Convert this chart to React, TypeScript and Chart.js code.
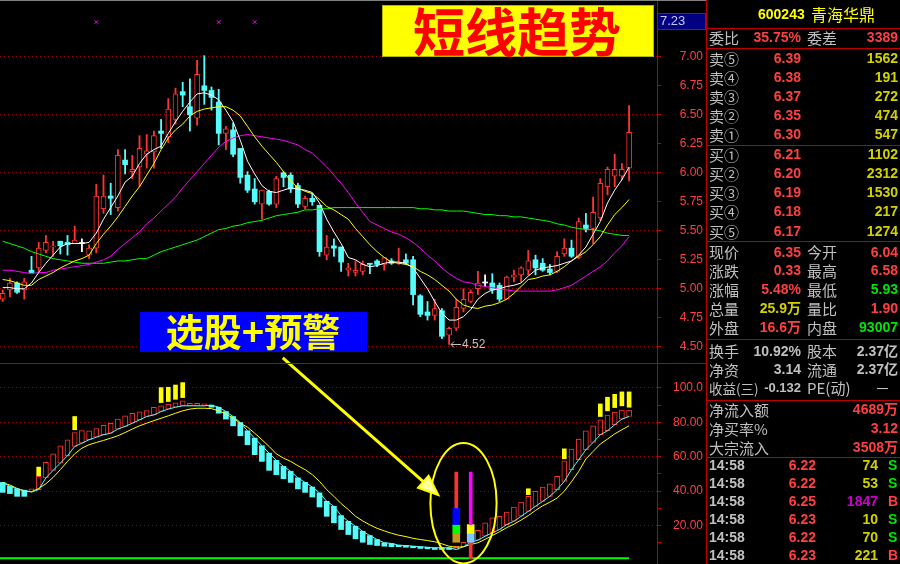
import { useEffect, useRef } from 'react';
import { Chart, registerables } from 'chart.js';

Chart.register(...registerables);

// ---------- daily candles ----------
const opens = [
  4.91, 4.99, 5.05, 4.99, 5.16, 5.18, 5.33, 5.36, 5.41, 5.40,
  5.39, 5.39, 5.29, 5.35, 5.69, 5.80, 5.70, 6.11, 6.01, 6.05,
  6.16, 6.18, 6.36, 6.31, 6.46, 6.70, 6.57, 6.47, 6.75, 6.71,
  6.61, 6.34, 6.37, 6.21, 5.98, 5.86, 5.73, 5.84, 5.73, 6.00,
  5.98, 5.89, 5.71, 5.78, 5.72, 5.29, 5.37, 5.36, 5.16, 5.14,
  5.15, 5.22, 5.24, 5.21, 5.24, 5.22, 5.25, 5.25, 4.94, 4.80,
  4.77, 4.81, 4.60, 4.66, 4.83, 4.89, 5.00, 5.05, 5.05, 5.03,
  4.91, 5.10, 5.12, 5.16, 5.25, 5.22, 5.17, 5.15, 5.30, 5.35,
  5.27, 5.55, 5.52, 5.61, 5.88, 5.97, 5.97, 6.04,
];
const highs = [
  4.99, 5.09, 5.06, 5.09, 5.28, 5.40, 5.46, 5.41, 5.41, 5.46,
  5.54, 5.43, 5.38, 5.90, 5.98, 5.91, 6.20, 6.20, 6.15, 6.32,
  6.33, 6.36, 6.46, 6.64, 6.73, 6.78, 6.81, 6.97, 7.01, 6.74,
  6.72, 6.40, 6.43, 6.21, 6.01, 5.95, 5.85, 5.85, 5.97, 6.01,
  6.00, 5.91, 5.80, 5.82, 5.72, 5.46, 5.43, 5.36, 5.22, 5.24,
  5.24, 5.22, 5.25, 5.27, 5.26, 5.35, 5.30, 5.28, 4.95, 4.89,
  4.91, 4.83, 4.67, 4.91, 5.00, 4.99, 5.15, 5.12, 5.13, 5.05,
  5.11, 5.16, 5.19, 5.33, 5.29, 5.26, 5.21, 5.32, 5.43, 5.42,
  5.61, 5.65, 5.79, 5.95, 6.05, 6.16, 6.08, 6.58,
];
const lows = [
  4.89, 4.93, 4.96, 4.91, 5.14, 5.14, 5.31, 5.28, 5.30, 5.29,
  5.39, 5.32, 5.26, 5.31, 5.65, 5.64, 5.67, 5.99, 5.95, 5.88,
  6.04, 6.04, 6.21, 6.26, 6.42, 6.57, 6.36, 6.41, 6.59, 6.54,
  6.24, 6.20, 6.14, 5.91, 5.83, 5.73, 5.60, 5.72, 5.70, 5.88,
  5.83, 5.70, 5.69, 5.72, 5.28, 5.25, 5.28, 5.15, 5.11, 5.11,
  5.12, 5.13, 5.19, 5.16, 5.21, 5.21, 5.21, 4.86, 4.76, 4.73,
  4.73, 4.57, 4.52, 4.64, 4.80, 4.88, 4.95, 5.02, 4.96, 4.89,
  4.91, 5.06, 5.06, 5.12, 5.12, 5.15, 5.12, 5.14, 5.28, 5.27,
  5.26, 5.49, 5.39, 5.59, 5.81, 5.88, 5.94, 5.93,
];
const closes = [
  4.96, 5.05, 4.97, 5.06, 5.14, 5.35, 5.40, 5.37, 5.37, 5.38,
  5.42, 5.39, 5.35, 5.80, 5.80, 5.78, 6.15, 6.07, 6.03, 6.21,
  6.19, 6.32, 6.34, 6.55, 6.68, 6.67, 6.50, 6.85, 6.71, 6.65,
  6.34, 6.38, 6.16, 5.96, 5.85, 5.75, 5.85, 5.73, 5.95, 5.96,
  5.86, 5.73, 5.78, 5.75, 5.32, 5.36, 5.35, 5.23, 5.18, 5.16,
  5.21, 5.21, 5.21, 5.27, 5.22, 5.23, 5.22, 4.95, 4.78, 4.77,
  4.83, 4.59, 4.66, 4.84, 4.91, 4.97, 5.05, 5.05, 4.99, 4.91,
  5.10, 5.12, 5.18, 5.24, 5.18, 5.16, 5.14, 5.28, 5.35, 5.28,
  5.58, 5.52, 5.66, 5.91, 6.03, 6.03, 6.03, 6.35,
];

// ---------- moving averages ----------
const ma5 = [
  5.01, 5.01, 5.00, 5.00, 5.05, 5.14, 5.22, 5.29, 5.36, 5.39,
  5.39, 5.39, 5.40, 5.48, 5.60, 5.70, 5.80, 5.92, 5.97, 6.08,
  6.16, 6.20, 6.23, 6.34, 6.44, 6.53, 6.61, 6.68, 6.69, 6.67,
  6.63, 6.54, 6.44, 6.28, 6.10, 5.99, 5.89, 5.84, 5.83, 5.85,
  5.87, 5.86, 5.85, 5.83, 5.74, 5.60, 5.49, 5.39, 5.27, 5.25,
  5.21, 5.19, 5.20, 5.22, 5.23, 5.23, 5.22, 5.18, 5.09, 5.00,
  4.89, 4.79, 4.73, 4.73, 4.76, 4.82, 4.91, 4.96, 4.99, 5.00,
  5.02, 5.03, 5.05, 5.11, 5.16, 5.18, 5.19, 5.20, 5.22, 5.24,
  5.29, 5.36, 5.47, 5.58, 5.74, 5.85, 5.94, 6.05,
];
const ma10 = [
  5.08, 5.07, 5.05, 5.03, 5.03, 5.08, 5.11, 5.14, 5.18, 5.21,
  5.24, 5.26, 5.29, 5.39, 5.47, 5.54, 5.62, 5.71, 5.80, 5.88,
  5.98, 6.08, 6.20, 6.30, 6.37, 6.42, 6.49, 6.53, 6.55, 6.56,
  6.57, 6.57, 6.54, 6.49, 6.40, 6.31, 6.23, 6.16, 6.09, 6.01,
  5.93, 5.87, 5.84, 5.82, 5.77, 5.71, 5.68, 5.64, 5.60, 5.52,
  5.45, 5.38, 5.32, 5.27, 5.23, 5.22, 5.21, 5.19, 5.15, 5.12,
  5.08, 5.03, 4.98, 4.91, 4.86, 4.84, 4.83, 4.85, 4.86, 4.88,
  4.91, 4.96, 5.02, 5.08, 5.09, 5.11, 5.12, 5.15, 5.19, 5.24,
  5.28, 5.32, 5.38, 5.45, 5.55, 5.64, 5.70, 5.77,
];
const ma30 = [
  5.16, 5.16, 5.15, 5.14, 5.13, 5.14, 5.14, 5.16, 5.17, 5.18,
  5.19, 5.20, 5.21, 5.23, 5.25, 5.28, 5.34, 5.39, 5.44, 5.49,
  5.56, 5.61, 5.67, 5.73, 5.79, 5.87, 5.94, 6.01, 6.08, 6.15,
  6.22, 6.27, 6.30, 6.32, 6.33, 6.32, 6.31, 6.30, 6.29, 6.28,
  6.26, 6.24, 6.20, 6.17, 6.11, 6.05, 5.98, 5.91, 5.83, 5.74,
  5.66, 5.58, 5.55, 5.52, 5.49, 5.47, 5.44, 5.40, 5.35, 5.29,
  5.24, 5.18, 5.13, 5.09, 5.06, 5.05, 5.03, 5.02, 5.01, 5.00,
  4.99, 4.98, 4.98, 4.98, 4.98, 4.98, 4.98, 4.99, 5.01, 5.03,
  5.07, 5.11, 5.15, 5.19, 5.24, 5.31, 5.37, 5.45,
];
const ma120 = [
  5.41, 5.39, 5.37, 5.35, 5.32, 5.30, 5.28, 5.26, 5.25, 5.24,
  5.23, 5.22, 5.22, 5.22, 5.22, 5.23, 5.24, 5.24, 5.25, 5.26,
  5.26, 5.29, 5.32, 5.34, 5.36, 5.38, 5.40, 5.42, 5.45, 5.48,
  5.51, 5.52, 5.54, 5.55, 5.57, 5.58, 5.59, 5.61, 5.63, 5.64,
  5.65, 5.66, 5.68, 5.68, 5.69, 5.69, 5.70, 5.70, 5.70, 5.70,
  5.70, 5.70, 5.70, 5.70, 5.70, 5.70, 5.70, 5.70, 5.69, 5.69,
  5.68, 5.68, 5.67, 5.67, 5.67, 5.66, 5.65, 5.64, 5.64, 5.63,
  5.63, 5.62, 5.62, 5.61, 5.60, 5.59, 5.58, 5.56, 5.55, 5.53,
  5.52, 5.51, 5.51, 5.50, 5.48, 5.47, 5.46, 5.46,
];

// small markers along the top of the price panel
const markDays = [13, 30, 35];
const markLevels = [7.3, 7.3, 7.3];

const priceTicks = [4.5, 4.75, 5, 5.25, 5.5, 5.75, 6, 6.25, 6.5, 6.75, 7];
const priceTag = 7.23;
const lowestDay = 62;

// ---------- short-term trend indicator ----------
const trendFast = [
  45.1, 42.8, 41.3, 40.5, 39.5, 40.9, 47.7, 52.1, 56.3, 60.6,
  66.0, 67.9, 69.9, 71.4, 72.8, 73.7, 76.1, 77.6, 79.5, 81.4,
  83.4, 84.3, 86.3, 87.7, 88.8, 89.6, 89.6, 89.6, 89.6, 90.0,
  88.8, 86.3, 83.4, 79.9, 75.1, 70.8, 66.4, 62.1, 57.9, 54.4,
  51.5, 47.7, 45.1, 42.4, 39.0, 34.1, 31.2, 25.8, 22.5, 19.6,
  16.7, 14.2, 11.9, 10.0, 9.6, 8.6, 8.4, 8.0, 7.7, 7.4,
  7.1, 7.1, 7.1, 6.1, 7.7, 10.3, 11.5, 13.8, 15.8, 17.7,
  20.6, 22.5, 25.4, 28.3, 31.2, 34.1, 37.0, 40.9, 45.7, 52.5,
  58.3, 64.1, 68.3, 72.8, 75.1, 78.6, 81.9, 83.4,
];
const trendBarEnd = [
  39.3, 38.6, 37.0, 37.0, 41.3, 48.6, 56.7, 61.7, 66.4, 69.9,
  74.1, 75.2, 75.1, 76.4, 78.2, 79.5, 81.9, 83.8, 85.3, 86.1,
  86.8, 88.8, 89.6, 90.6, 91.3, 92.5, 91.1, 91.1, 90.7, 88.8,
  85.3, 81.9, 78.0, 72.2, 67.0, 61.2, 57.3, 52.1, 49.6, 47.2,
  45.1, 41.3, 39.3, 36.6, 30.8, 25.4, 21.6, 17.7, 14.8, 12.3,
  10.3, 9.0, 8.4, 8.0, 7.7, 7.7, 7.4, 7.1, 6.7, 6.5,
  6.1, 6.1, 6.1, 8.0, 10.3, 14.0, 17.3, 21.6, 24.5, 25.4,
  27.9, 30.8, 33.7, 37.0, 39.9, 42.4, 44.3, 48.6, 57.7, 64.5,
  70.3, 75.1, 78.0, 81.4, 84.3, 85.9, 87.2, 87.2,
];
const trendSlow = [
  44.9, 43.6, 41.6, 39.9, 39.7, 41.6, 44.3, 48.0, 52.5, 57.3,
  61.7, 65.0, 67.0, 68.3, 69.5, 70.8, 72.2, 74.1, 76.1, 78.0,
  79.5, 81.0, 82.4, 83.8, 85.3, 86.7, 87.7, 88.2, 88.2, 88.0,
  86.7, 84.9, 82.4, 79.5, 77.2, 73.7, 69.9, 66.0, 61.7, 59.2,
  57.3, 54.8, 52.5, 49.6, 45.7, 40.9, 37.0, 32.8, 29.3, 25.4,
  22.7, 20.4, 18.4, 16.9, 15.5, 14.4, 13.6, 12.6, 11.9, 11.3,
  10.6, 9.4, 8.0, 7.4, 7.7, 9.0, 10.0, 12.0, 14.2, 16.4,
  18.8, 20.8, 23.2, 25.8, 28.8, 31.5, 33.6, 36.0, 40.0, 45.5,
  51.5, 58.7, 63.1, 67.4, 70.3, 73.3, 75.7, 78.0,
];
const trendFloor = 1;

// alert ticks above the bars
const alertDays = [5, 10, 22, 23, 24, 25, 73, 78, 83, 84, 85, 86, 87];
const alertLow = [49.0, 75.7, 91.5, 92.1, 93.4, 94.4, 38.0, 58.8, 83.4, 86.7, 88.6, 89.6, 88.8];
const alertHigh = [54.0, 83.4, 100.2, 100.4, 101.7, 103.1, 41.4, 64.6, 90.7, 94.6, 96.3, 97.7, 97.7];

// bottom-signal columns
const signalDayA = 63;
const signalStemA = [30.3, 51.1];
const signalBlocksA = [[20.6, 30.3], [15.8, 20.6], [10.3, 15.8]];
const signalDayB = 65;
const signalStemB = [20.6, 51.1];
const signalBlocksB = [[15.4, 20.6], [10.3, 15.4]];
const signalTailB = [0.7, 10.3];

const trendTicks = [10, 20, 30, 40, 50, 60, 70, 80, 90, 100];
const trendLabelTicks = [20, 40, 60, 80, 100];

// ---------- quote panel ----------
const stockCode = '600243';
const stockName = '青海华鼎';
const bidAskRatio = '35.75%';
const bidAskDiff = '3389';
const bookLabels = ['卖⑤', '卖④', '卖③', '卖②', '卖①', '买①', '买②', '买③', '买④', '买⑤'];
const bookPrices = [6.39, 6.38, 6.37, 6.35, 6.30, 6.21, 6.20, 6.19, 6.18, 6.17];
const bookVolumes = [1562, 191, 272, 474, 547, 1102, 2312, 1530, 217, 1274];
const quoteNames = ['现价', '涨跌', '涨幅', '总量', '外盘'];
const quoteValues = ['6.35', '0.33', '5.48%', '25.9万', '16.6万'];
const quoteNames2 = ['今开', '最高', '最低', '量比', '内盘'];
const quoteValues2 = ['6.04', '6.58', '5.93', '1.90', '93007'];
const shareNames = ['换手', '净资'];
const shareValues = ['10.92%', '3.14'];
const shareNames2 = ['股本', '流通'];
const shareValues2 = ['2.37亿', '2.37亿'];
const epsLabel = '收益(三)';
const epsValue = '-0.132';
const peLabel = 'PE(动)';
const peValue = '－';
const flowNames = ['净流入额', '净买率%', '大宗流入'];
const flowValues = ['4689万', '3.12', '3508万'];
const tradeTimes = ['14:58', '14:58', '14:58', '14:58', '14:58', '14:58'];
const tradePrices = [6.22, 6.22, 6.25, 6.23, 6.22, 6.23];
const tradeVolumes = [74, 53, 1847, 10, 70, 221];
const tradeSides = ['S', 'S', 'B', 'S', 'S', 'B'];

// ---------- styling ----------
const RED = '#ff3232';
const CYAN = '#54fcfc';
const WHITE = '#ffffff';
const YELLOW = '#ffff00';
const MAGENTA = '#ff00ff';
const GREEN = '#00ff00';
const FRAME = '#c00000';
const DOT = '#a00000';
const GRAY = '#c0c0c0';
const TXT_RED = '#ff4040';
const TXT_YEL = '#d2d200';
const TXT_GRN = '#00e600';
const TXT_MAG = '#cc00cc';
const CJK = '"Noto Sans CJK SC"';
const F_LABEL = `15px ${CJK}`;
const F_NUM = `bold 14px "Liberation Sans", ${CJK}`;
const F_AXIS = '12px "Liberation Sans"';

const X_MIN = -0.375;
const X_MAX = 90.875;
const PANEL_X = 706;

const days = closes.map((_, i) => i);
const isUp = (i: number) => closes[i] > opens[i];
const isDown = (i: number) => closes[i] < opens[i];
const tone = (i: number) => (isUp(i) ? RED : isDown(i) ? CYAN : WHITE);
const series = (arr: number[]) => days.map((i) => ({ x: i, y: arr[i] }));

const line = (arr: number[], color: string, axis: string, width = 1) => ({
  type: 'line',
  yAxisID: axis,
  data: series(arr),
  borderColor: color,
  borderWidth: width,
  pointRadius: 0,
  tension: 0,
  order: 1,
});

const segment = (day: number, range: number[], color: string, thick: number) => ({
  type: 'bar',
  yAxisID: 'yT',
  data: [{ x: day, y: range }],
  backgroundColor: color,
  borderWidth: 0,
  barThickness: thick,
  grouped: false,
  order: 0,
});

function text(ctx: any, s: string, x: number, y: number, color: string, font: string, align = 'left') {
  ctx.font = font;
  ctx.fillStyle = color;
  ctx.textAlign = align;
  ctx.textBaseline = 'middle';
  ctx.fillText(s, x, y);
}

function hline(ctx: any, x1: number, x2: number, y: number, color: string) {
  ctx.strokeStyle = color;
  ctx.lineWidth = 1;
  ctx.beginPath();
  ctx.moveTo(x1, y);
  ctx.lineTo(x2, y);
  ctx.stroke();
}

function drawQuotePanel(ctx: any, h: number) {
  const L = 709;
  const C1 = 801;
  const L2 = 807;
  const R = 898;
  ctx.save();
  // frame
  ctx.strokeStyle = FRAME;
  ctx.lineWidth = 1;
  ctx.beginPath();
  ctx.moveTo(PANEL_X + 0.5, 0);
  ctx.lineTo(PANEL_X + 0.5, h);
  ctx.stroke();
  [28.5, 48.5, 145.5, 241.5, 339.5, 400.5, 457.5].forEach((y) => hline(ctx, PANEL_X, 900, y, FRAME));

  text(ctx, stockCode, 758, 15, YELLOW, 'bold 14px "Liberation Sans"');
  text(ctx, stockName, 811, 15, YELLOW, `16px ${CJK}`);

  text(ctx, '委比', L, 38, GRAY, F_LABEL);
  text(ctx, bidAskRatio, C1, 38, TXT_RED, F_NUM, 'right');
  text(ctx, '委差', L2, 38, GRAY, F_LABEL);
  text(ctx, bidAskDiff, R, 38, TXT_RED, F_NUM, 'right');

  bookLabels.forEach((lab, k) => {
    const y = k < 5 ? 59.3 + k * 19 : 155 + (k - 5) * 19.2;
    text(ctx, lab, L, y, GRAY, F_LABEL);
    text(ctx, bookPrices[k].toFixed(2), C1, y, TXT_RED, F_NUM, 'right');
    text(ctx, String(bookVolumes[k]), R, y, TXT_YEL, F_NUM, 'right');
  });

  const qColors = [TXT_RED, TXT_RED, TXT_RED, TXT_YEL, TXT_RED];
  const qColors2 = [TXT_RED, TXT_RED, TXT_GRN, TXT_RED, TXT_GRN];
  quoteNames.forEach((lab, k) => {
    const y = 252.7 + k * 18.9;
    text(ctx, lab, L, y, GRAY, F_LABEL);
    text(ctx, quoteValues[k], C1, y, qColors[k], F_NUM, 'right');
    text(ctx, quoteNames2[k], L2, y, GRAY, F_LABEL);
    text(ctx, quoteValues2[k], R, y, qColors2[k], F_NUM, 'right');
  });

  shareNames.forEach((lab, k) => {
    const y = 351.7 + k * 18.7;
    text(ctx, lab, L, y, GRAY, F_LABEL);
    text(ctx, shareValues[k], C1, y, GRAY, F_NUM, 'right');
    text(ctx, shareNames2[k], L2, y, GRAY, F_LABEL);
    text(ctx, shareValues2[k], R, y, GRAY, F_NUM, 'right');
  });
  text(ctx, epsLabel, L, 388.5, GRAY, `13.5px ${CJK}`);
  text(ctx, epsValue, C1, 388.5, GRAY, `bold 13px "Liberation Sans"`, 'right');
  text(ctx, peLabel, L2, 388.5, GRAY, F_LABEL);
  text(ctx, peValue, 890, 388.5, GRAY, F_LABEL, 'right');

  flowNames.forEach((lab, k) => {
    const y = 410 + k * 19;
    text(ctx, lab, L, y, GRAY, F_LABEL);
    text(ctx, flowValues[k], R, y, TXT_RED, F_NUM, 'right');
  });

  tradeTimes.forEach((t, k) => {
    const y = 466 + k * 18;
    text(ctx, t, L, y, GRAY, F_NUM);
    text(ctx, tradePrices[k].toFixed(2), 816, y, TXT_RED, F_NUM, 'right');
    text(ctx, String(tradeVolumes[k]), 878, y, tradeVolumes[k] >= 1000 ? TXT_MAG : TXT_YEL, F_NUM, 'right');
    text(ctx, tradeSides[k], 888, y, tradeSides[k] === 'B' ? TXT_RED : TXT_GRN, F_NUM);
  });
  ctx.restore();
}

const overlay = {
  id: 'overlay',
  beforeDraw(chart: any) {
    const { ctx, width, height } = chart;
    ctx.save();
    ctx.fillStyle = '#000000';
    ctx.fillRect(0, 0, width, height);
    ctx.restore();
  },
  afterDatasetsDraw(chart: any) {
    const { ctx } = chart;
    const xs = chart.scales.x;
    const yP = chart.scales.yP;
    const yT = chart.scales.yT;
    ctx.save();

    // lowest-price pointer
    const lx = xs.getPixelForValue(lowestDay);
    const ly = Math.round(yP.getPixelForValue(lows[lowestDay])) + 0.5;
    ctx.strokeStyle = GRAY;
    ctx.lineWidth = 1;
    ctx.beginPath();
    ctx.moveTo(lx + 2, ly);
    ctx.lineTo(lx + 12, ly);
    ctx.moveTo(lx + 2, ly);
    ctx.lineTo(lx + 5, ly - 3);
    ctx.moveTo(lx + 2, ly);
    ctx.lineTo(lx + 5, ly + 3);
    ctx.stroke();
    text(ctx, lows[lowestDay].toFixed(2), lx + 13, ly, GRAY, F_AXIS);

    // ellipse around the bottom signal
    const cx = xs.getPixelForValue(64);
    const cy = yT.getPixelForValue(33);
    const rx = xs.getPixelForValue(68.6) - cx;
    const ry = yT.getPixelForValue(-2) - cy;
    ctx.strokeStyle = YELLOW;
    ctx.lineWidth = 2;
    ctx.beginPath();
    ctx.ellipse(cx, cy, rx, ry, 0, 0, Math.PI * 2);
    ctx.stroke();

    // arrow from the caption to the signal
    const tx = xs.getPixelForValue(38.9);
    const ty = yP.getPixelForValue(4.405);
    const hx = xs.getPixelForValue(60.5);
    const hy = yT.getPixelForValue(37.8);
    const ang = Math.atan2(hy - ty, hx - tx);
    const headLen = 20;
    const bx = hx - Math.cos(ang) * headLen;
    const by = hy - Math.sin(ang) * headLen;
    ctx.strokeStyle = YELLOW;
    ctx.lineWidth = 3;
    ctx.beginPath();
    ctx.moveTo(tx, ty);
    ctx.lineTo(bx, by);
    ctx.stroke();
    const nx = -Math.sin(ang) * 8;
    const ny = Math.cos(ang) * 8;
    ctx.beginPath();
    ctx.moveTo(hx, hy);
    ctx.lineTo(bx + nx, by + ny);
    ctx.lineTo(bx - nx, by - ny);
    ctx.closePath();
    ctx.fillStyle = '#ffffa0';
    ctx.fill();
    ctx.lineWidth = 2;
    ctx.stroke();
    ctx.restore();
  },
  afterDraw(chart: any) {
    const { ctx, height } = chart;
    const yP = chart.scales.yP;
    const yT = chart.scales.yT;
    const area = chart.chartArea;
    ctx.save();

    // frame lines
    hline(ctx, 0, PANEL_X, 0.5, '#808080');
    hline(ctx, 0, PANEL_X, Math.round(yP.bottom) + 0.5, FRAME);

    // axis labels
    priceTicks.forEach((v) => {
      text(ctx, v.toFixed(2), 703, yP.getPixelForValue(v), TXT_RED, F_AXIS, 'right');
    });
    trendLabelTicks.forEach((v) => {
      text(ctx, v >= 100 ? v.toFixed(1) : v.toFixed(2), 703, yT.getPixelForValue(v), TXT_RED, F_AXIS, 'right');
    });

    // price tag at the top of the axis
    const tagY = yP.getPixelForValue(priceTag);
    ctx.fillStyle = '#000080';
    ctx.fillRect(area.right, tagY - 17, PANEL_X - area.right, 16);
    ctx.strokeStyle = FRAME;
    ctx.lineWidth = 1;
    ctx.strokeRect(area.right + 0.5, Math.round(tagY - 17) + 0.5, PANEL_X - area.right - 1, 16);
    text(ctx, priceTag.toFixed(2), area.right + 3, tagY - 8.5, '#c8c8ff', '13px "Liberation Sans"');

    // captions
    ctx.fillStyle = YELLOW;
    ctx.fillRect(382, 5, 272, 52);
    ctx.strokeStyle = '#b4b400';
    ctx.strokeRect(382.5, 5.5, 271, 51);
    text(ctx, '短线趋势', 517, 32, '#ff0000', `bold 52px ${CJK}`, 'center');

    ctx.fillStyle = '#0000ff';
    ctx.fillRect(140, 312, 227, 40);
    text(ctx, '选股+预警', 253, 332, YELLOW, `bold 38px ${CJK}`, 'center');

    drawQuotePanel(ctx, height);
    ctx.restore();
  },
};

export default function App() {
  const ref = useRef<HTMLCanvasElement>(null);

  useEffect(() => {
    const gridColor = (step: number) => (c: any) =>
      c.tick && Math.abs(c.tick.value / step - Math.round(c.tick.value / step)) < 1e-6 ? DOT : 'rgba(0,0,0,0)';

    const config: any = {
      type: 'bar',
      data: {
        datasets: [
          // candle wicks and bodies
          {
            type: 'bar',
            yAxisID: 'yP',
            data: days.map((i) => ({ x: i, y: [lows[i], highs[i]] })),
            backgroundColor: days.map(tone),
            borderWidth: 0,
            barThickness: 1.2,
            grouped: false,
            order: 4,
          },
          {
            type: 'bar',
            yAxisID: 'yP',
            data: days.map((i) => ({ x: i, y: [opens[i], closes[i]] })),
            backgroundColor: days.map((i) => (isUp(i) ? '#000000' : tone(i))),
            borderColor: days.map(tone),
            borderWidth: days.map((i) => (isUp(i) ? 1 : 0)),
            borderSkipped: false,
            barThickness: 5,
            minBarLength: 1,
            grouped: false,
            order: 3,
          },
          line(ma5, WHITE, 'yP'),
          line(ma10, YELLOW, 'yP'),
          line(ma30, MAGENTA, 'yP'),
          line(ma120, GREEN, 'yP'),
          {
            type: 'line',
            yAxisID: 'yP',
            data: markDays.map((d, k) => ({ x: d, y: markLevels[k] })),
            showLine: false,
            pointStyle: 'crossRot',
            pointRadius: 2.5,
            pointBorderColor: MAGENTA,
            pointBorderWidth: 1,
            order: 1,
          },
          // trend indicator
          {
            type: 'bar',
            yAxisID: 'yT',
            data: days.map((i) => ({ x: i, y: [trendFast[i], trendBarEnd[i]] })),
            backgroundColor: days.map((i) => (trendBarEnd[i] > trendFast[i] ? '#000000' : CYAN)),
            borderColor: days.map((i) => (trendBarEnd[i] > trendFast[i] ? RED : CYAN)),
            borderWidth: days.map((i) => (trendBarEnd[i] > trendFast[i] ? 1 : 0)),
            borderSkipped: false,
            barThickness: 5,
            grouped: false,
            order: 3,
          },
          {
            type: 'bar',
            yAxisID: 'yT',
            data: alertDays.map((d, k) => ({ x: d, y: [alertLow[k], alertHigh[k]] })),
            backgroundColor: YELLOW,
            borderWidth: 0,
            barThickness: 4,
            grouped: false,
            order: 2,
          },
          line(trendFast, CYAN, 'yT'),
          line(trendSlow, YELLOW, 'yT'),
          {
            type: 'line',
            yAxisID: 'yT',
            data: [
              { x: X_MIN, y: trendFloor },
              { x: days.length - 1, y: trendFloor },
            ],
            borderColor: GREEN,
            borderWidth: 2,
            pointRadius: 0,
            order: 1,
          },
          segment(signalDayA, signalStemA, RED, 3),
          segment(signalDayA, signalBlocksA[0], '#0000ff', 7),
          segment(signalDayA, signalBlocksA[1], GREEN, 7),
          segment(signalDayA, signalBlocksA[2], '#c8961e', 7),
          segment(signalDayB, signalStemB, MAGENTA, 3),
          segment(signalDayB, signalBlocksB[0], YELLOW, 7),
          segment(signalDayB, signalBlocksB[1], '#80c8ff', 7),
          segment(signalDayB, signalTailB, RED, 3),
        ],
      },
      options: {
        responsive: false,
        maintainAspectRatio: false,
        devicePixelRatio: 1,
        animation: false,
        events: [],
        layout: { autoPadding: false, padding: { left: 0, top: 0, bottom: 0, right: 900 - PANEL_X } },
        plugins: { legend: { display: false }, tooltip: { enabled: false } },
        scales: {
          x: {
            type: 'linear',
            min: X_MIN,
            max: X_MAX,
            offset: false,
            display: false,
          },
          yP: {
            type: 'linear',
            position: 'right',
            stack: 'panels',
            stackWeight: 363,
            min: 4.36,
            max: 7.49,
            beginAtZero: false,
            afterBuildTicks: (s: any) => {
              s.ticks = priceTicks.map((v) => ({ value: v }));
            },
            afterFit: (s: any) => {
              s.width = PANEL_X - 657;
            },
            ticks: { display: false, autoSkip: false },
            grid: {
              color: gridColor(0.5),
              lineWidth: 1,
              drawTicks: true,
              tickLength: 4,
              tickColor: FRAME,
              tickWidth: 1,
            },
            border: { display: true, color: FRAME, width: 1, dash: [1, 3] },
          },
          yT: {
            type: 'linear',
            position: 'right',
            stack: 'panels',
            stackWeight: 201,
            min: -2.33,
            max: 114.5,
            beginAtZero: false,
            afterBuildTicks: (s: any) => {
              s.ticks = trendTicks.map((v) => ({ value: v }));
            },
            afterFit: (s: any) => {
              s.width = PANEL_X - 657;
            },
            ticks: { display: false, autoSkip: false },
            grid: {
              color: gridColor(20),
              lineWidth: 1,
              drawTicks: true,
              tickLength: 4,
              tickColor: FRAME,
              tickWidth: 1,
            },
            border: { display: true, color: FRAME, width: 1, dash: [1, 3] },
          },
        },
      },
      plugins: [overlay],
    };

    const chart = new Chart(ref.current as HTMLCanvasElement, config);
    return () => chart.destroy();
  }, []);

  return (
    <div
      style={{
        position: 'fixed',
        left: 0,
        top: 0,
        width: 900,
        height: 564,
        background: '#000',
        overflow: 'hidden',
      }}
    >
      <canvas ref={ref} width={900} height={564} style={{ display: 'block', width: 900, height: 564 }} />
    </div>
  );
}
